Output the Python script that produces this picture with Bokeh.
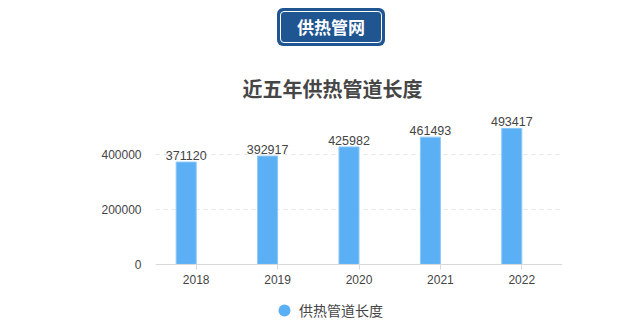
from bokeh.plotting import figure
from bokeh.layouts import column
from bokeh.core.properties import value
from bokeh.models import (ColumnDataSource, Div, FixedTicker, NumeralTickFormatter,
                          Legend, LegendItem, Title, Range1d)
from bokeh.transform import dodge
from bokeh.embed import file_html
from bokeh.resources import INLINE

# Pipeline length of the heating network, last five years
years = ["2018", "2019", "2020", "2021", "2022"]
lengths = [371120, 392917, 425982, 461493, 493417]
y_ticks = [0, 200000, 400000]
series_name = "供热管道长度"
chart_title = "近五年供热管道长度"
badge_text = "供热管网"

BAR_COLOR = "#5aaff5"
CJK = "Noto Sans CJK SC"
LATIN = "Liberation Sans"

src = ColumnDataSource(dict(year=years, length=lengths,
                            label=[str(v) for v in lengths]))

badge = Div(
    text=(
        '<div style="width:636px;height:55px;position:relative;">'
        '<div style="position:absolute;left:277px;top:8px;width:108px;height:38px;'
        'box-sizing:border-box;background:#1f5591;border-radius:6px;padding:3px;">'
        '<div style="box-sizing:border-box;width:100%;height:100%;border:1.5px solid #ffffff;'
        'border-radius:4px;color:#ffffff;font-family:\'Noto Sans CJK SC\';font-weight:bold;'
        'font-size:17px;line-height:29px;text-align:center;">'
        + badge_text +
        '</div></div></div>'
    ),
    width=636, height=55, margin=(0, 0, 0, 0),
)

# The frame reaches below zero so that the legend can sit inside it,
# under the x axis, which is pinned at y = 0.
p = figure(
    x_range=years, y_range=Range1d(-221818, 580000),
    frame_width=407, frame_height=221,
    min_border_left=155, min_border_right=74,
    min_border_top=49, min_border_bottom=0,
    output_backend="svg", toolbar_location=None,
    margin=(0, 0, 0, 0),
)

p.vbar(x=dodge("year", -0.123, range=p.x_range), top="length", width=0.246,
       source=src, fill_color=BAR_COLOR, line_color="#8cc8f7", line_width=1)

p.text(x=dodge("year", -0.123, range=p.x_range), y="length", text="label",
       source=src, text_align="center", text_baseline="bottom", y_offset=-2,
       text_font_size="12.5px", text_color="#444444", text_font=value(LATIN))

# Legend marker: zero-size circles on the plot; the legend draws its own
# circle scaled to the glyph box
dot = p.scatter(x="year", y="length", source=src, marker="circle", size=0,
                fill_color=BAR_COLOR, line_color=None)

p.title = Title(text=chart_title, align="left", offset=87,
                text_font=CJK, text_font_size="20px", text_font_style="bold",
                text_color="#464646", standoff=3)

# axes
p.xaxis.fixed_location = 0
p.xaxis.axis_line_color = "#d9d9d9"
p.xaxis.major_tick_line_color = "#d9d9d9"
p.xaxis.major_tick_out = 5
p.xaxis.major_tick_in = 0
p.xaxis.minor_tick_line_color = None
p.xaxis.major_label_text_font = LATIN
p.xaxis.major_label_text_font_size = "12px"
p.xaxis.major_label_text_color = "#444444"
p.xaxis.major_label_standoff = 6

p.yaxis.axis_line_color = None
p.yaxis.major_tick_line_color = None
p.yaxis.minor_tick_line_color = None
p.yaxis.ticker = FixedTicker(ticks=y_ticks)
p.yaxis.formatter = NumeralTickFormatter(format="0")
p.yaxis.major_label_text_font = LATIN
p.yaxis.major_label_text_font_size = "12px"
p.yaxis.major_label_text_color = "#444444"
p.yaxis.major_label_standoff = 8

p.xgrid.grid_line_color = None
p.ygrid.grid_line_color = "#e6e6e6"
p.ygrid.grid_line_dash = "4 4"
p.outline_line_color = None

legend = Legend(items=[LegendItem(label=series_name, renderers=[dot])],
                orientation="horizontal", location=(114, 0),
                label_text_font=CJK, label_text_font_size="14px",
                label_text_color="#444444", glyph_width=30, glyph_height=30,
                label_standoff=0, padding=0, margin=0, spacing=0,
                border_line_color=None, background_fill_alpha=0)
p.add_layout(legend, "center")

layout = column(badge, p, spacing=0, margin=(0, 0, 0, 0))
open("out.html", "w").write(file_html(layout, INLINE))
